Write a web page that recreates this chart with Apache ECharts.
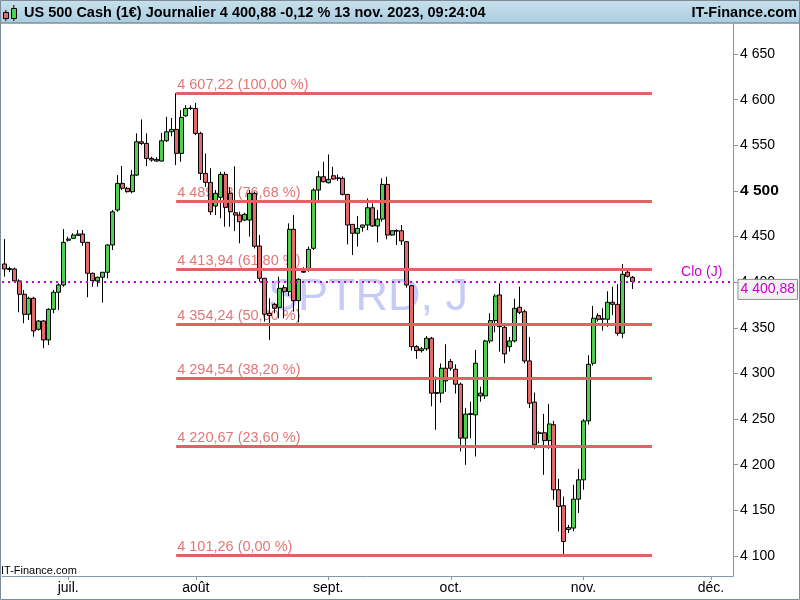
<!DOCTYPE html>
<html><head><meta charset="utf-8">
<script src="https://cdn.jsdelivr.net/npm/echarts@6.0.0/dist/echarts.min.js"></script>
<style>html,body{margin:0;padding:0;background:#fff}#c{width:800px;height:600px}</style>
</head><body><div id="c"></div>
<script>
const FONT = '"Liberation Sans", Arial, sans-serif';

// Category axis: daily bars (no Saturdays), from first bar to end of visible range
const firstDate = '2023-06-16';
const categoryCount = 149;
const monthNames = ['janv.','févr.','mars','avr.','mai','juin','juil.','août','sept.','oct.','nov.','déc.'];

// OHLC values (one bar per category, June 16 -> Nov 13 2023)
const opens = [4420.0,4414.0,4414.5,4401.4,4386.8,4364.9,4382.4,4348.4,4357.5,4336.7,4370.3,4389.0,4397.0,4446.0,4448.1,4451.3,4452.8,4443.7,4409.8,4401.4,4405.4,4410.9,4440.8,4479.1,4508.3,4502.9,4499.2,4517.4,4553.9,4552.1,4535.7,4534.6,4532.8,4555.0,4564.9,4567.5,4541.2,4582.4,4590.4,4590.4,4563.1,4519.3,4509.4,4483.5,4493.0,4518.2,4497.4,4476.1,4473.6,4468.1,4468.1,4497.4,4439.7,4404.3,4366.0,4375.8,4372.5,4394.0,4389.6,4458.0,4379.8,4411.0,4414.5,4437.2,4501.0,4515.6,4509.0,4516.7,4513.8,4513.8,4496.3,4463.4,4453.6,4460.2,4462.7,4481.6,4461.6,4469.2,4507.2,4451.7,4456.5,4456.4,4444.4,4396.2,4329.4,4325.0,4327.0,4338.6,4278.0,4278.4,4305.7,4313.0,4304.6,4288.2,4229.1,4255.0,4254.6,4278.4,4275.4,4335.6,4357.9,4386.0,4350.6,4329.4,4335.6,4372.5,4367.7,4313.7,4268.6,4235.0,4235.0,4226.4,4243.8,4172.5,4155.0,4129.0,4130.5,4162.2,4183.4,4248.0,4311.2,4363.4,4359.4,4359.4,4378.0,4375.8,4344.0,4411.0,4405.4];
const closes = [4414.5,4415.0,4401.4,4386.8,4364.9,4382.4,4346.6,4357.5,4336.7,4370.3,4389.0,4397.0,4443.7,4447.3,4451.7,4452.8,4443.7,4409.8,4401.7,4405.4,4410.9,4440.8,4477.2,4508.3,4502.9,4499.2,4517.4,4553.9,4552.1,4535.7,4533.9,4532.8,4555.0,4564.9,4567.5,4541.2,4580.6,4590.4,4590.9,4563.1,4519.3,4509.4,4477.2,4497.4,4518.2,4482.0,4477.2,4473.6,4466.3,4474.4,4497.4,4439.4,4404.3,4364.9,4363.4,4371.4,4393.3,4389.6,4458.0,4379.8,4403.2,4412.0,4436.0,4501.0,4515.6,4510.1,4512.7,4513.1,4514.3,4496.3,4462.7,4453.6,4459.0,4462.7,4481.6,4461.6,4469.2,4507.2,4451.7,4456.4,4456.0,4445.2,4397.0,4329.4,4325.0,4327.0,4338.6,4278.4,4279.0,4305.7,4291.8,4305.7,4288.2,4229.1,4255.4,4256.0,4311.2,4275.4,4335.6,4357.9,4384.9,4351.3,4321.4,4335.6,4371.4,4367.0,4313.7,4267.4,4221.8,4234.3,4226.4,4244.6,4172.5,4154.2,4115.8,4131.0,4162.2,4183.4,4248.0,4310.0,4360.5,4359.4,4360.0,4378.0,4375.8,4344.0,4408.7,4406.5,4400.88];
const lows = [4406.1,4411.0,4399.5,4367.1,4355.0,4358.6,4340.3,4347.0,4327.6,4331.2,4366.0,4369.6,4395.1,4444.4,4447.3,4451.3,4440.0,4383.5,4395.1,4395.1,4377.6,4404.3,4435.3,4477.2,4501.0,4498.1,4497.4,4516.3,4550.3,4527.3,4532.0,4532.0,4532.0,4553.9,4560.0,4528.4,4532.0,4581.3,4588.6,4561.2,4512.0,4504.6,4473.6,4473.6,4470.0,4460.8,4460.8,4456.0,4442.6,4467.0,4450.0,4437.0,4400.6,4356.8,4336.7,4366.0,4360.5,4360.5,4385.0,4367.7,4356.1,4410.5,4411.5,4435.3,4490.0,4509.4,4508.3,4512.3,4511.0,4495.0,4441.5,4429.8,4439.0,4455.4,4457.2,4460.8,4443.7,4466.3,4447.0,4451.0,4440.8,4440.8,4394.0,4325.0,4316.0,4323.0,4325.0,4264.0,4238.3,4268.0,4280.0,4303.0,4278.0,4214.4,4199.8,4229.0,4209.0,4269.0,4272.0,4333.0,4345.0,4323.9,4311.2,4324.0,4334.0,4365.0,4311.0,4262.0,4217.4,4223.6,4188.9,4217.4,4161.5,4126.8,4101.26,4125.0,4127.0,4147.0,4172.5,4244.0,4308.6,4357.0,4347.0,4351.0,4364.0,4341.4,4338.6,4405.0,4392.6];
const highs = [4447.3,4417.0,4416.0,4403.2,4391.5,4384.1,4384.1,4358.5,4358.6,4371.4,4391.5,4398.8,4458.3,4449.9,4453.6,4457.2,4457.2,4443.7,4410.5,4406.1,4410.9,4441.5,4479.1,4517.4,4527.3,4504.6,4522.9,4563.1,4578.4,4563.1,4537.5,4537.0,4563.8,4581.3,4580.0,4607.22,4588.6,4594.0,4594.0,4596.6,4564.9,4541.2,4525.0,4501.0,4521.0,4521.0,4504.0,4527.0,4477.2,4476.0,4501.0,4499.2,4451.7,4404.3,4382.4,4377.0,4406.0,4397.0,4464.5,4473.6,4404.3,4416.4,4439.0,4502.9,4521.8,4532.0,4540.0,4526.5,4518.0,4516.0,4496.3,4463.4,4472.5,4463.0,4491.9,4486.4,4479.1,4513.8,4515.6,4457.0,4458.0,4462.7,4445.0,4397.0,4331.0,4329.0,4341.0,4340.0,4296.6,4311.0,4332.0,4316.0,4310.0,4290.0,4262.0,4269.0,4325.8,4285.6,4337.0,4366.0,4387.0,4398.8,4354.0,4340.0,4382.0,4395.1,4370.0,4340.0,4279.0,4237.0,4255.7,4266.6,4248.0,4184.5,4165.1,4134.0,4178.0,4195.4,4250.0,4320.0,4374.0,4366.0,4371.4,4390.0,4395.0,4398.0,4420.0,4413.0,4406.8];

// Fibonacci retracement levels
const fibLevels = [4607.22, 4489.23, 4413.94, 4354.24, 4294.54, 4220.67, 4101.26];
const fibPercents = [100, 76.68, 61.80, 50, 38.20, 23.60, 0];
const fibStartIndex = 35;
const fibEndIndex = 132;

const lastClose = 4400.88;
const yTicks = [4100, 4150, 4200, 4250, 4300, 4350, 4400, 4450, 4500, 4550, 4600, 4650];
const boldTick = 4500;

const titleText = 'US 500 Cash (1€) Journalier 4 400,88 -0,12 % 13 nov. 2023, 09:24:04';
const brandText = 'IT-Finance.com';
const watermarkText = 'SPTRD, J';

function buildCategories() {
  const out = [];
  const d = new Date(firstDate + 'T12:00:00Z');
  while (out.length < categoryCount) {
    if (d.getUTCDay() !== 6) out.push(d.toISOString().slice(0, 10));
    d.setUTCDate(d.getUTCDate() + 1);
  }
  return out;
}
const categories = buildCategories();
const isMonthStart = (i) => i > 0 && categories[i].slice(5, 7) !== categories[i - 1].slice(5, 7);

function fmt(v, dec) {
  const s = Number(v).toFixed(dec);
  let [ip, dp] = s.split('.');
  ip = ip.replace(/\B(?=(\d{3})+(?!\d))/g, ' ');
  return dp ? ip + ',' + dp : ip;
}

const candleData = opens.map((o, i) => [o, closes[i], lows[i], highs[i]]);

const chart = echarts.init(document.getElementById('c'), null, {renderer: 'canvas', width: 800, height: 600});

const AXIS_COLOR = '#8797a3';
const FIB_LINE = '#e06262';
const FIB_TEXT = '#e27676';
const MAGENTA = '#cc00cc';

chart.setOption({
  animation: false,
  backgroundColor: '#ffffff',
  grid: {left: 2, top: 24, width: 731, height: 552, containLabel: false},
  xAxis: {
    type: 'category', data: categories, boundaryGap: true,
    axisLine: {show: true, lineStyle: {color: AXIS_COLOR, width: 1}},
    axisTick: {show: true, alignWithLabel: true, interval: (i) => isMonthStart(i), length: 4, lineStyle: {color: AXIS_COLOR}},
    axisLabel: {
      interval: (i) => isMonthStart(i),
      formatter: (v) => monthNames[parseInt(v.slice(5, 7), 10) - 1],
      color: '#000', fontSize: 14, fontFamily: FONT, margin: 5
    },
    splitLine: {show: false}
  },
  yAxis: {
    type: 'value', position: 'right', min: 4078, max: 4683,
    axisLine: {show: true, lineStyle: {color: AXIS_COLOR, width: 1}},
    axisTick: {show: true, length: 5, customValues: yTicks, lineStyle: {color: AXIS_COLOR}},
    axisLabel: {
      customValues: yTicks, margin: 7, color: '#000', fontSize: 14, fontFamily: FONT,
      formatter: (v) => v === boldTick ? '{b|' + fmt(v, 0) + '}' : fmt(v, 0),
      rich: {b: {fontWeight: 'bold', fontSize: 15.5, fontFamily: FONT, color: '#000'}}
    },
    splitLine: {show: false}
  },
  series: [
    {
      type: 'line', data: [], z: 1, silent: true,
      markLine: {
        silent: true, symbol: ['none', 'none'], z: 1, animation: false,
        lineStyle: {color: 'rgba(255,255,255,0)', width: 1},
        label: {show: true, position: 'insideStartTop', distance: [1, 0.5], color: FIB_TEXT, fontSize: 14.5, fontFamily: FONT,
          formatter: '{b}'},
        data: fibLevels.map((lv, k) => [
          {coord: [categories[fibStartIndex], lv], name: fmt(lv, 2) + ' (' + fmt(fibPercents[k], 2) + ' %)'},
          {coord: [categories[fibEndIndex], lv]}
        ])
      }
    },
    {
      type: 'candlestick', data: candleData, z: 2, barWidth: 4.5,
      itemStyle: {color: '#4fd04f', color0: '#e26a6a', borderColor: '#000', borderColor0: '#000', borderColorDoji: '#000', borderWidth: 1},
      markLine: {
        silent: true, symbol: ['none', 'none'], z: 3, animation: false,
        label: {show: false},
        lineStyle: {color: FIB_LINE, width: 2.8, type: 'solid'},
        data: fibLevels.map((lv) => [
          {coord: [categories[fibStartIndex], lv]},
          {coord: [categories[fibEndIndex], lv]}
        ])
      }
    },
    {
      type: 'line', data: [], z: 4, silent: true,
      markLine: {
        silent: true, symbol: ['none', 'none'], z: 4, animation: false,
        lineStyle: {color: MAGENTA, width: 2, type: [2, 4]},
        label: {show: true, position: 'insideEndTop', distance: [10.7, 2.4], color: MAGENTA, fontSize: 14, fontFamily: FONT, formatter: 'Clo (J)'},
        data: [{yAxis: lastClose}]
      }
    }
  ]
});

const py = chart.convertToPixel({yAxisIndex: 0}, lastClose);

chart.setOption({
  graphic: {elements: [
    {type: 'rect', z: 0, silent: true, shape: {x: 0, y: 0, width: 800, height: 23},
      style: {fill: new echarts.graphic.LinearGradient(0, 0, 0, 1, [{offset: 0, color: '#c8e0ec'}, {offset: 1, color: '#a9cde0'}])}},
    {type: 'line', z: 1, silent: true, shape: {x1: 0, y1: 23, x2: 800, y2: 23}, style: {stroke: '#7f8f9b', lineWidth: 1.5}},
    {type: 'rect', z: 20, silent: true, shape: {x: 0.5, y: 0.5, width: 799, height: 599}, style: {fill: 'none', stroke: '#7d8c98', lineWidth: 1}},
    // header icon
    {type: 'line', z: 2, silent: true, shape: {x1: 5.8, y1: 10, x2: 5.8, y2: 21}, style: {stroke: '#000', lineWidth: 1}},
    {type: 'rect', z: 3, silent: true, shape: {x: 3.5, y: 12.5, width: 5, height: 6}, style: {fill: '#e26a6a', stroke: '#000', lineWidth: 1}},
    {type: 'line', z: 2, silent: true, shape: {x1: 13.8, y1: 5, x2: 13.8, y2: 21}, style: {stroke: '#000', lineWidth: 1}},
    {type: 'rect', z: 3, silent: true, shape: {x: 11.5, y: 8.5, width: 5, height: 10}, style: {fill: '#4fd04f', stroke: '#000', lineWidth: 1}},
    {type: 'text', z: 3, silent: true, style: {text: titleText, x: 24, y: 12.8, verticalAlign: 'middle', font: 'bold 14.5px ' + FONT, fill: '#000'}},
    {type: 'text', z: 3, silent: true, style: {text: brandText, x: 797, y: 12.8, align: 'right', verticalAlign: 'middle', font: 'bold 14.5px ' + FONT, fill: '#000'}},
    // watermark
    {type: 'text', z: 0, silent: true, style: {text: watermarkText, x: 268, y: 297.5, verticalAlign: 'middle', font: '45px ' + FONT, fill: '#c6caf8'}},
    // bottom-left credit
    {type: 'text', z: 3, silent: true, style: {text: brandText, x: 1, y: 570.6, verticalAlign: 'middle', font: '11px ' + FONT, fill: '#000'}},
    // last close box on the price axis
    {type: 'rect', z: 30, silent: true, shape: {x: 738, y: py - 2, width: 59.5, height: 20}, style: {fill: '#f2f2f2', stroke: '#8c8c8c', lineWidth: 1}},
    {type: 'text', z: 31, silent: true, style: {text: fmt(lastClose, 2), x: 740.5, y: py + 8, verticalAlign: 'middle', font: '14px ' + FONT, fill: MAGENTA}}
  ]}
});
</script></body></html>
